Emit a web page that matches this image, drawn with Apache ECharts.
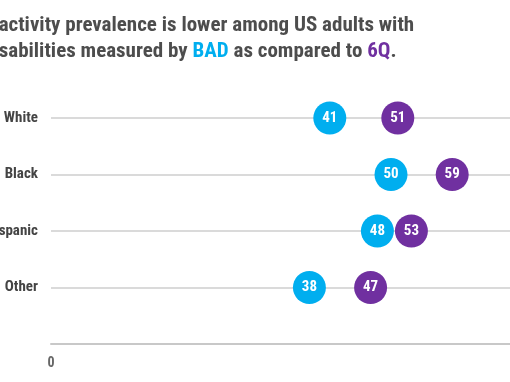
<!DOCTYPE html>
<html><head><meta charset="utf-8">
<script src="https://cdn.jsdelivr.net/npm/echarts@6/dist/echarts.min.js"></script>
<style>
html,body{margin:0;padding:0;width:510px;height:382px;overflow:hidden;background:#fff;position:relative}
#c{position:absolute;left:-14px;top:0;width:760px;height:382px}
</style></head><body>
<div id="c"></div>
<script>
const categories = ['White', 'Black', 'Hispanic', 'Other', ''];
const badValues = [41, 50, 48, 38];
const sixQValues = [51, 59, 53, 47];
const xTicks = [0, 100];

const chart = echarts.init(document.getElementById('c'), null, {renderer: 'canvas'});
const FONT = "'Roboto Condensed', 'DejaVu Sans Condensed', sans-serif";
chart.setOption({
  animation: false,
  title: {
    left: -3, top: 13, padding: 0,
    text: '{a|inactivity prevalence is lower among US adults with}\n{a|disabilities measured by }{b|BAD}{a| as compared to }{c|6Q}{a|.}',
    textStyle: {
      rich: {
        a: {fontFamily: FONT, fontWeight: 'bold', fontSize: 21, color: '#4d4d4d', lineHeight: 26},
        b: {fontFamily: FONT, fontWeight: 'bold', fontSize: 21, color: '#00aeef', lineHeight: 26},
        c: {fontFamily: FONT, fontWeight: 'bold', fontSize: 21, color: '#7030a0', lineHeight: 26}
      }
    }
  },
  grid: {left: 65, top: 118, width: 680, height: 226, containLabel: false, outerBoundsMode: 'none'},
  xAxis: {
    type: 'value', min: xTicks[0], max: xTicks[xTicks.length - 1], interval: 100,
    axisLine: {show: true, lineStyle: {color: '#c8c8c8', width: 2}},
    axisTick: {show: false},
    splitLine: {show: false},
    axisLabel: {color: '#666', fontFamily: FONT, fontWeight: 'bold', fontSize: 14, margin: 12}
  },
  yAxis: {
    type: 'category', data: categories, inverse: true, boundaryGap: false,
    axisLine: {show: false}, axisTick: {show: false},
    splitLine: {show: true, lineStyle: {color: '#dadada', width: 2}},
    axisLabel: {color: '#444', fontFamily: FONT, fontWeight: 'bold', fontSize: 15, margin: 13}
  },
  series: [
    {
      type: 'scatter', symbolSize: 33, z: 3,
      itemStyle: {color: '#00aeef', opacity: 1},
      data: badValues.map((v, i) => [v, i]),
      label: {show: true, position: 'inside', formatter: p => p.value[0], color: '#fff', fontFamily: FONT, fontWeight: 'bold', fontSize: 15}
    },
    {
      type: 'scatter', symbolSize: 33, z: 4,
      itemStyle: {color: '#7030a0', opacity: 1},
      data: sixQValues.map((v, i) => [v, i]),
      label: {show: true, position: 'inside', formatter: p => p.value[0], color: '#fff', fontFamily: FONT, fontWeight: 'bold', fontSize: 15}
    }
  ]
});
</script></body></html>
